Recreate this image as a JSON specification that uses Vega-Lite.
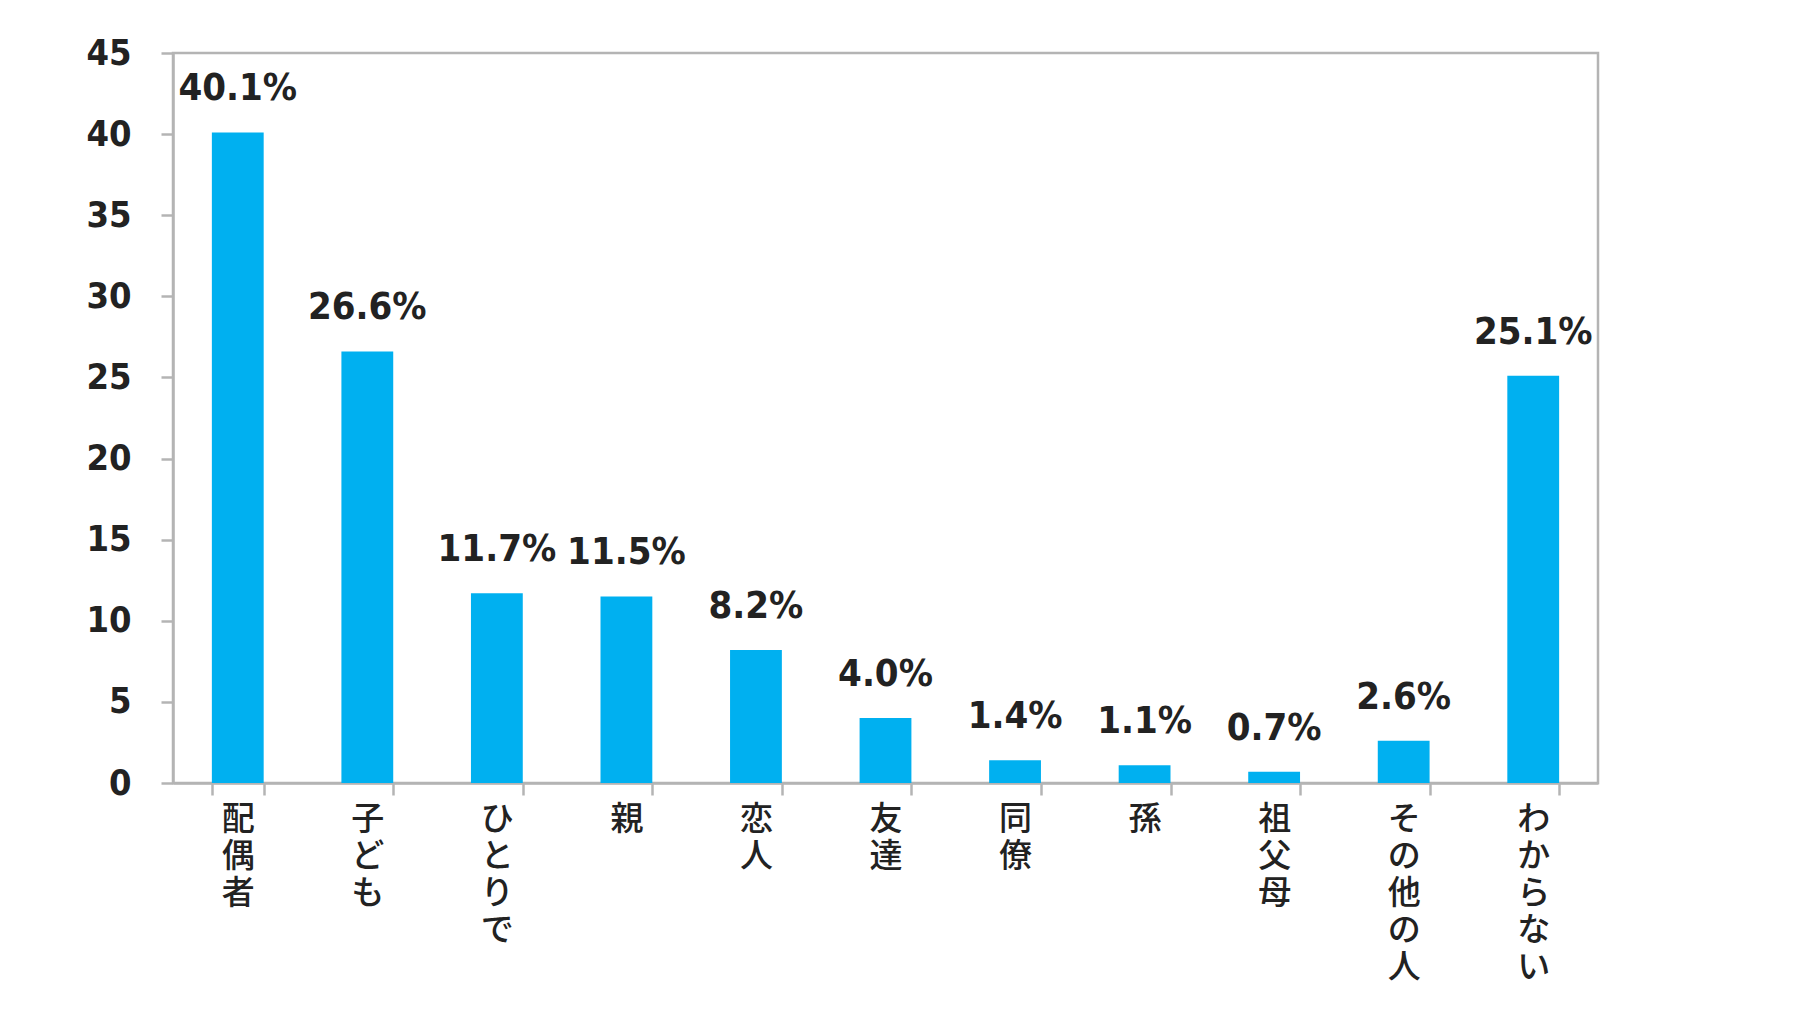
{
  "$schema": "https://vega.github.io/schema/vega-lite/v6.json",
  "autosize": {"type": "none"},
  "padding": {"left": 173, "top": 53, "right": 209, "bottom": 235},
  "width": 1425,
  "height": 730,
  "background": "white",
  "config": {
    "view": {"stroke": "#b4b4b4", "strokeWidth": 2.5},
    "axis": {"grid": false}
  },
  "data": {
    "values": [
      {"cat": "配偶者", "value": 40.1, "label": "40.1%"},
      {"cat": "子ども", "value": 26.6, "label": "26.6%"},
      {"cat": "ひとりで", "value": 11.7, "label": "11.7%"},
      {"cat": "親", "value": 11.5, "label": "11.5%"},
      {"cat": "恋人", "value": 8.2, "label": "8.2%"},
      {"cat": "友達", "value": 4.0, "label": "4.0%"},
      {"cat": "同僚", "value": 1.4, "label": "1.4%"},
      {"cat": "孫", "value": 1.1, "label": "1.1%"},
      {"cat": "祖父母", "value": 0.7, "label": "0.7%"},
      {"cat": "その他の人", "value": 2.6, "label": "2.6%"},
      {"cat": "わからない", "value": 25.1, "label": "25.1%"}
    ]
  },
  "encoding": {
    "x": {
      "field": "cat",
      "type": "nominal",
      "sort": null,
      "scale": {"paddingInner": 0.6, "paddingOuter": 0.3},
      "axis": {
        "title": null,
        "labelAngle": 0,
        "labelExpr": "split(datum.label, '')",
        "labelFont": "Noto Sans CJK JP",
        "labelFontSize": 33,
        "labelFontWeight": 500,
        "labelLineHeight": 37,
        "labelBaseline": "top",
        "labelColor": "#222222",
        "labelPadding": 8,
        "tickBand": "extent",
        "tickSize": 12,
        "tickWidth": 2.5,
        "tickColor": "#b4b4b4",
        "domainColor": "#b4b4b4",
        "domainWidth": 2.5
      }
    },
    "y": {
      "field": "value",
      "type": "quantitative",
      "scale": {"domain": [0, 45], "nice": false},
      "axis": {
        "title": null,
        "values": [0, 5, 10, 15, 20, 25, 30, 35, 40, 45],
        "labelFont": "DejaVu Sans Condensed",
        "labelFontWeight": "bold",
        "labelFontSize": 36,
        "labelColor": "#222222",
        "labelPadding": 30,
        "tickSize": 12,
        "tickWidth": 2.5,
        "tickColor": "#b4b4b4",
        "domainColor": "#b4b4b4",
        "domainWidth": 2.5
      }
    }
  },
  "layer": [
    {"mark": {"type": "bar", "color": "#00B0F0"}},
    {
      "mark": {
        "type": "text",
        "baseline": "alphabetic",
        "dy": -32,
        "font": "DejaVu Sans Condensed",
        "fontWeight": "bold",
        "fontSize": 38,
        "color": "#222222"
      },
      "encoding": {"text": {"field": "label"}}
    }
  ]
}
